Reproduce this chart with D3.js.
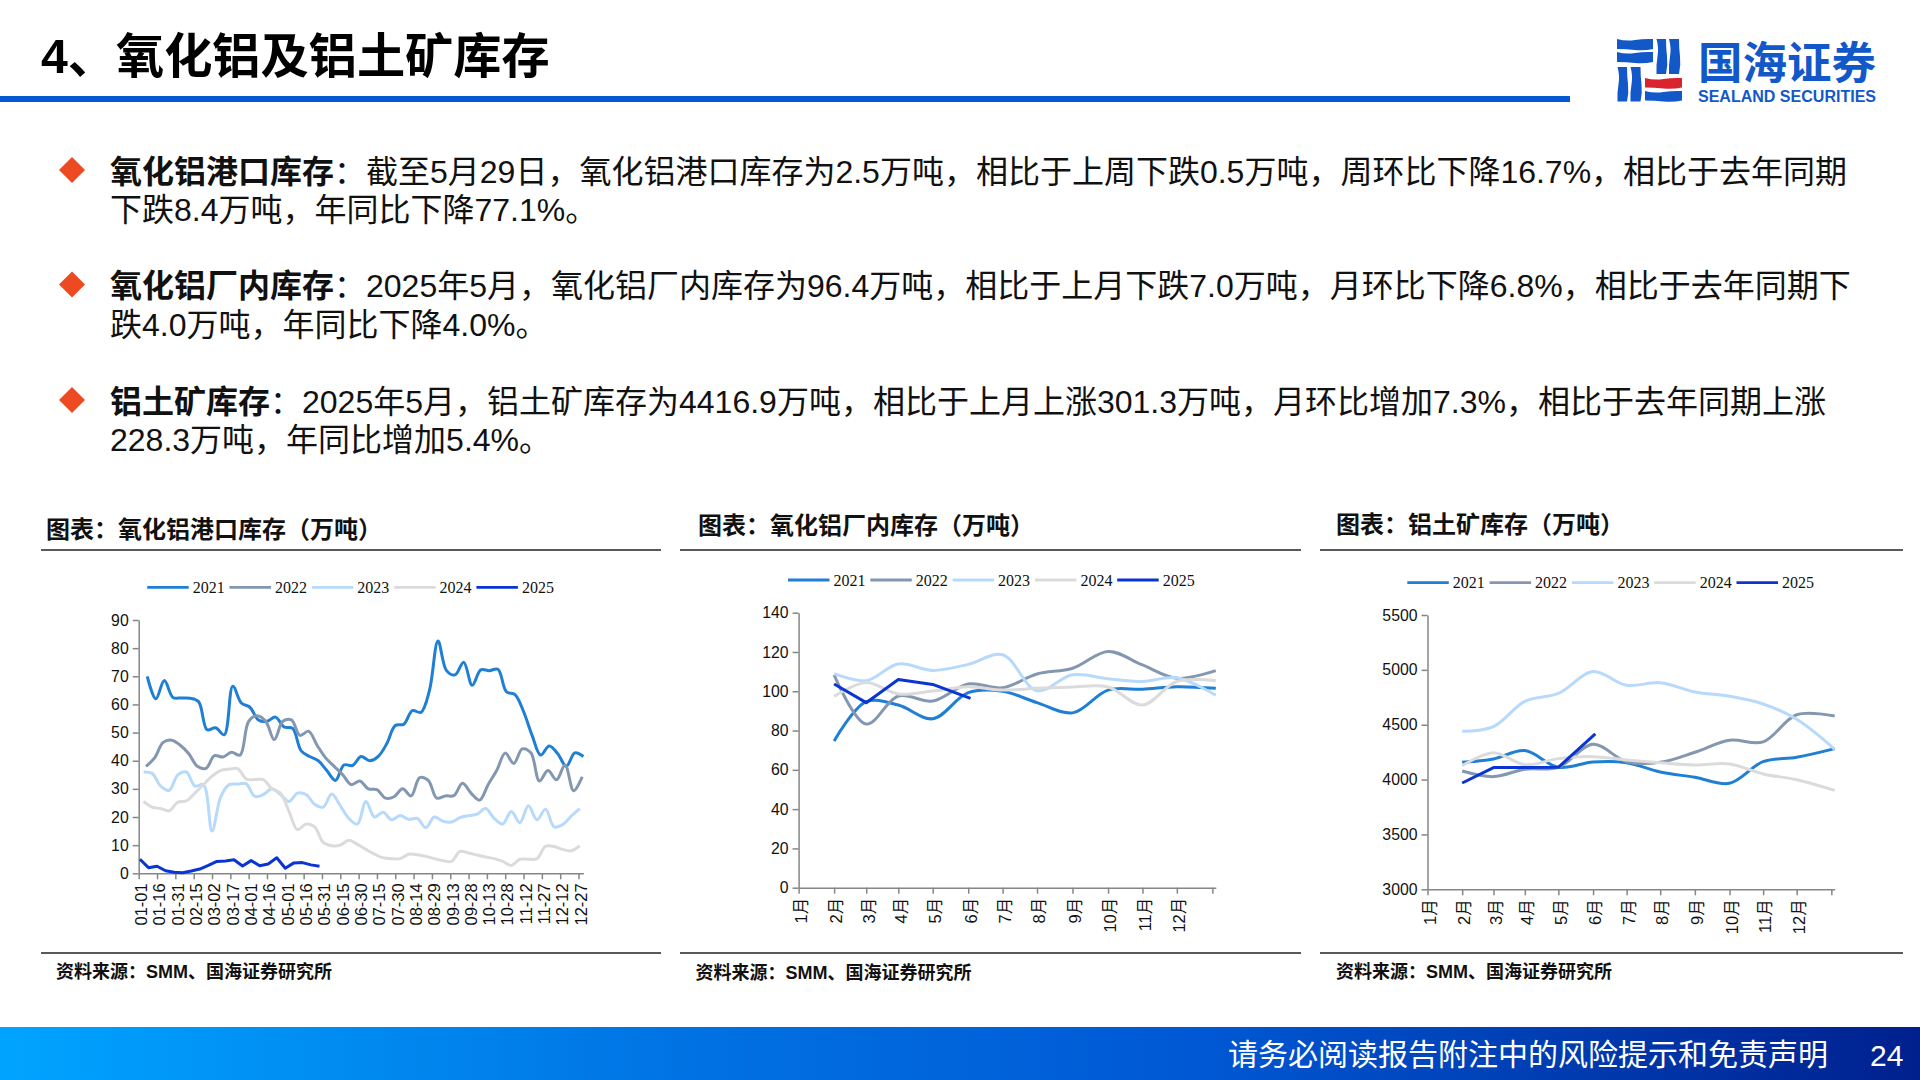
<!DOCTYPE html>
<html>
<head>
<meta charset="utf-8">
<script src="https://cdn.jsdelivr.net/npm/d3@7"></script>
<style>
  body { margin: 0; background: #fff; }
  svg { display: block; }
  text { font-family: "Liberation Sans", "Noto Sans CJK SC", sans-serif; }
</style>
</head>
<body>
<div id="slide"></div>
<script>
// Series names and colours shared by all three charts
const years = ["2021", "2022", "2023", "2024", "2025"];
const yearColors = ["#1E7FD4", "#8497B0", "#B7D9FB", "#DBDBDB", "#0A35D2"];

// Port stock: weekly readings, each year has its own first date
const portTickLabels = ["01-01", "01-16", "01-31", "02-15", "03-02", "03-17", "04-01", "04-16", "05-01", "05-16", "05-31", "06-15", "06-30", "07-15", "07-30", "08-14", "08-29", "09-13", "09-28", "10-13", "10-28", "11-12", "11-27", "12-12", "12-27"];
const portYTicks = [0, 10, 20, 30, 40, 50, 60, 70, 80, 90];
const portStart = ["01-08", "01-07", "01-05", "01-05", "01-02"];
const port2021 = [70, 62, 68.5, 62.5, 62.3, 62.2, 61, 51, 51.7, 49.2, 66.5, 60.5, 59, 54.5, 54, 55.5, 52, 51.5, 43.5, 41.5, 40, 36.5, 33, 38.5, 38.3, 41.5, 40, 41.5, 46, 52.5, 53, 57.8, 57.2, 65, 82.5, 72, 70.5, 75, 66.8, 72.3, 72, 72.5, 64.5, 63.5, 57.5, 49, 42, 45.2, 42.5, 38, 42.8, 41.5];
const port2022 = [38, 41, 46.5, 47.3, 45.5, 42.5, 38, 37.3, 41.8, 41.3, 43, 42, 54, 56, 54, 47.5, 54, 54.5, 49, 50.5, 45.5, 41, 38, 35, 31.5, 32.8, 30, 29.7, 26.7, 27.2, 30, 27.5, 34, 33, 26.7, 27.5, 27.6, 32, 28.5, 26, 31.5, 36.5, 42.7, 39, 44.2, 42.8, 32.8, 36.5, 33.2, 38.5, 29.3, 34.3];
const port2023 = [36, 35.5, 31, 29.5, 35, 36, 31, 31.5, 15, 27, 31.5, 31.7, 31.8, 27.3, 28, 30, 28, 25.5, 28.5, 28, 24.5, 23.5, 28.2, 24, 19.5, 17.5, 25.5, 20, 21.7, 19, 20.5, 19.2, 19.5, 16.2, 20, 18.5, 18.2, 19.8, 20.5, 21, 23, 19.5, 17.5, 22, 18, 24, 19, 22.8, 16.5, 17.3, 20.3, 23];
const port2024 = [25.5, 23.5, 23, 22.2, 25.3, 25.7, 28.5, 31.5, 34.5, 36.5, 37, 37.2, 33.5, 33.3, 33.3, 30, 28.5, 22, 15.5, 17.5, 16.5, 11, 9.8, 10, 11.7, 10.3, 8.5, 6.8, 5.5, 5.2, 5.2, 6.8, 6.6, 6, 5.2, 4.5, 4.2, 7.8, 7.2, 6.5, 5.8, 5.2, 4.2, 2.8, 5, 5, 5.2, 9.6, 9.5, 8.5, 8, 9.8];
const port2025 = [5, 2, 2.5, 0.9, 0.4, 0.2, 0.8, 1.5, 2.8, 4.2, 4.4, 4.8, 2.6, 4.5, 2.7, 3.3, 5.5, 1.8, 3.7, 3.8, 3, 2.5];

// Monthly charts: the month axis ticks are not evenly spaced in the source
const monthTickDates = ["01-01", "02-01", "03-01", "03-29", "04-28", "05-29", "06-28", "07-28", "08-28", "09-28", "10-28", "11-27", "12-28"];
const monthTickLabels = ["1月", "2月", "3月", "4月", "5月", "6月", "7月", "8月", "9月", "10月", "11月", "12月", ""];
const monthDates = ["02-01", "03-01", "03-29", "04-28", "05-29", "06-28", "07-28", "08-28", "09-28", "10-28", "11-27", "12-31"];
const monthDates2025 = ["02-01", "03-01", "03-29", "04-28", "05-31"];

// Plant stock
const plantYTicks = [0, 20, 40, 60, 80, 100, 120, 140];
const plant2021 = [74.7, 94.7, 93, 86, 99.3, 100, 94.2, 89, 100.6, 101, 102.3, 101.5];
const plant2022 = [108.3, 83.3, 97.6, 95, 103.7, 101.8, 108.8, 111.7, 120.3, 113.4, 106.6, 110.5];
const plant2023 = [109, 105.4, 113.9, 110.6, 113.7, 118.6, 100.3, 108.4, 106.4, 105, 106.9, 98];
const plant2024 = [97.4, 104.5, 98.6, 100.1, 102.3, 100.6, 101.5, 102.2, 102.2, 93, 105, 105.4];
const plant2025 = [103.7, 94.2, 106, 103.5, 96.4];

// Bauxite stock
const bauxiteYTicks = [3000, 3500, 4000, 4500, 5000, 5500];
const bauxite2021 = [4157, 4188, 4264, 4112, 4160, 4154, 4069, 4021, 3966, 4163, 4203, 4282];
const bauxite2022 = [4078, 4027, 4094, 4112, 4321, 4163, 4157, 4249, 4358, 4343, 4591, 4580];
const bauxite2023 = [4440, 4483, 4713, 4786, 4984, 4859, 4883, 4798, 4759, 4689, 4549, 4276];
const bauxite2024 = [4127, 4245, 4136, 4191, 4209, 4179, 4154, 4133, 4142, 4051, 3999, 3902];
const bauxite2025 = [3969, 4109, 4109, 4112, 4416.9];

// Slide text: each paragraph is a list of lines, each line a list of [text, bold]
const pageTitle = "4、氧化铝及铝土矿库存";
const paragraphs = [
  [[["氧化铝港口库存", true], ["：截至5月29日，氧化铝港口库存为2.5万吨，相比于上周下跌0.5万吨，周环比下降16.7%，相比于去年同期", false]],
   [["下跌8.4万吨，年同比下降77.1%。", false]]],
  [[["氧化铝厂内库存", true], ["：2025年5月，氧化铝厂内库存为96.4万吨，相比于上月下跌7.0万吨，月环比下降6.8%，相比于去年同期下", false]],
   [["跌4.0万吨，年同比下降4.0%。", false]]],
  [[["铝土矿库存", true], ["：2025年5月，铝土矿库存为4416.9万吨，相比于上月上涨301.3万吨，月环比增加7.3%，相比于去年同期上涨", false]],
   [["228.3万吨，年同比增加5.4%。", false]]]
];
const sourceText = "资料来源：SMM、国海证券研究所";
const footerText = "请务必阅读报告附注中的风险提示和免责声明";

const parseDay = d3.timeParse("%m-%d");
const weekly = (start, values) => values.map((v, i) => [d3.timeDay.offset(parseDay(start), 7 * i), v]);
const monthly = (dates, values) => values.map((v, i) => [parseDay(dates[i]), v]);

const svg = d3.select("#slide").append("svg").attr("width", 1920).attr("height", 1080);

// Footer gradient
const grad = svg.append("defs").append("linearGradient").attr("id", "footerGrad");
[[0, "#00A4FF"], [0.375, "#0070E2"], [0.625, "#0058D4"], [1, "#00208E"]].forEach(s => {
  grad.append("stop").attr("offset", s[0]).attr("stop-color", s[1]);
});

// Header
svg.append("text").attr("x", 41).attr("y", 73).attr("font-size", 48.2).attr("font-weight", 700).attr("fill", "#000").text(pageTitle);
svg.append("rect").attr("x", 0).attr("y", 96).attr("width", 1570).attr("height", 6).attr("fill", "#0559D2");

// Logo: slightly wavy bands, the vertical ones are drawn by swapping the wave axis
const logo = svg.append("g");
const hBand = (x, y, w, h) => `M${x} ${y}Q${x + w / 4} ${y + 2.5} ${x + w / 2} ${y + 1}T${x + w} ${y}V${y + h}Q${x + 3 * w / 4} ${y + h + 2} ${x + w / 2} ${y + h + 1}T${x} ${y + h}Z`;
const vBand = (x, y, w, h) => `M${x} ${y}Q${x + 2.5} ${y + h / 4} ${x + 1} ${y + h / 2}T${x} ${y + h}H${x + w}Q${x + w + 2} ${y + 3 * h / 4} ${x + w + 1} ${y + h / 2}T${x + w} ${y}Z`;
[hBand(1617, 39, 36, 10), hBand(1617, 52, 36, 10), vBand(1617.5, 67, 9.5, 34.5), vBand(1630.5, 67, 10, 34.5), vBand(1656.5, 39, 9.5, 35), vBand(1669, 39, 10, 35), hBand(1645, 91, 37, 9.5)]
  .forEach(d => logo.append("path").attr("d", d).attr("fill", "#1358C8"));
logo.append("path").attr("d", hBand(1645, 78, 37, 9.5)).attr("fill", "#D9232E");
logo.append("text").attr("x", 1698).attr("y", 79).attr("font-size", 44.5).attr("font-weight", 700).attr("fill", "#1358C8").text("国海证券");
logo.append("text").attr("x", 1698).attr("y", 101.5).attr("font-size", 16).attr("font-weight", 700).attr("fill", "#1358C8")
  .attr("textLength", 178).attr("lengthAdjust", "spacingAndGlyphs").text("SEALAND SECURITIES");

// Bullet paragraphs
const paraTop = [182.5, 297, 412.5];
const lineGap = 38.8;
paragraphs.forEach((lines, p) => {
  const cy = paraTop[p] - 12.5;
  svg.append("path").attr("d", `M72 ${cy - 13}L85 ${cy}L72 ${cy + 13}L59 ${cy}Z`).attr("fill", "#EE4A22");
  lines.forEach((runs, l) => {
    const t = svg.append("text").attr("x", 110).attr("y", paraTop[p] + l * lineGap).attr("font-size", 32).attr("fill", "#111");
    runs.forEach(r => t.append("tspan").attr("font-weight", r[1] ? 700 : 400).text(r[0]));
  });
});

// Footer
svg.append("rect").attr("x", 0).attr("y", 1027).attr("width", 1920).attr("height", 53).attr("fill", "url(#footerGrad)");
svg.append("text").attr("x", 1228).attr("y", 1065).attr("font-size", 30).attr("fill", "#fff").text(footerText);
svg.append("text").attr("x", 1870).attr("y", 1066).attr("font-size", 30).attr("fill", "#fff").text("24");

// Chart panels, built from the arrays above
const panels = [
  {
    title: "图表：氧化铝港口库存（万吨）", titleX: 46, titleY: 538, ruleX: [41, 661], ruleY: 550, sourceX: 56, sourceY: 977.5,
    xRange: [138.7, 583.4], yRange: [873.3, 620], yDomain: [0, 90], yTicks: portYTicks,
    xTicks: portTickLabels.map(parseDay), xLabels: portTickLabels,
    legendX: 147.2, legendStep: 82.3, legendY: 587.3,
    series: [port2021, port2022, port2023, port2024, port2025].map((v, i) => weekly(portStart[i], v))
  },
  {
    title: "图表：氧化铝厂内库存（万吨）", titleX: 698, titleY: 534, ruleX: [680, 1301], ruleY: 550, sourceX: 695.5, sourceY: 978.5,
    xRange: [798.6, 1215.8], yRange: [887.7, 612.7], yDomain: [0, 140], yTicks: plantYTicks,
    xTicks: monthTickDates.map(parseDay), xLabels: monthTickLabels,
    legendX: 788, legendStep: 82.3, legendY: 580,
    series: [plant2021, plant2022, plant2023, plant2024].map(v => monthly(monthDates, v)).concat([monthly(monthDates2025, plant2025)])
  },
  {
    title: "图表：铝土矿库存（万吨）", titleX: 1336, titleY: 533, ruleX: [1320, 1903], ruleY: 550, sourceX: 1336, sourceY: 977.5,
    xRange: [1427.5, 1834.7], yRange: [889.3, 615], yDomain: [3000, 5500], yTicks: bauxiteYTicks,
    xTicks: monthTickDates.map(parseDay), xLabels: monthTickLabels,
    legendX: 1407.3, legendStep: 82.3, legendY: 582.7,
    series: [bauxite2021, bauxite2022, bauxite2023, bauxite2024].map(v => monthly(monthDates, v)).concat([monthly(monthDates2025, bauxite2025)])
  }
];

panels.forEach(p => {
  const g = svg.append("g");

  g.append("text").attr("x", p.titleX).attr("y", p.titleY).attr("font-size", 24).attr("font-weight", 700).attr("fill", "#111").text(p.title);
  g.append("line").attr("x1", p.ruleX[0]).attr("x2", p.ruleX[1]).attr("y1", p.ruleY).attr("y2", p.ruleY).attr("stroke", "#222").attr("stroke-width", 1.3);
  g.append("line").attr("x1", p.ruleX[0]).attr("x2", p.ruleX[1]).attr("y1", 953).attr("y2", 953).attr("stroke", "#222").attr("stroke-width", 1.3);
  g.append("text").attr("x", p.sourceX).attr("y", p.sourceY).attr("font-size", 18).attr("font-weight", 700).attr("fill", "#111").text(sourceText);

  const xScale = d3.scaleTime().domain([parseDay("01-01"), parseDay("12-31")]).range(p.xRange);
  const yScale = d3.scaleLinear().domain(p.yDomain).range(p.yRange);

  const yAxis = d3.axisLeft(yScale).tickValues(p.yTicks).tickSize(6).tickSizeOuter(0).tickPadding(4).tickFormat(d3.format("d"));
  const xAxis = d3.axisBottom(xScale).tickValues(p.xTicks).tickSize(6).tickSizeOuter(0).tickFormat((d, i) => p.xLabels[i]);

  const yG = g.append("g").attr("transform", `translate(${p.xRange[0]},0)`).call(yAxis);
  const xG = g.append("g").attr("transform", `translate(0,${p.yRange[0]})`).call(xAxis);

  yG.selectAll("text").attr("font-size", 15.8).attr("fill", "#111");
  xG.selectAll("text")
    .attr("font-size", 16.5).attr("fill", "#111")
    .attr("text-anchor", "end").attr("dy", "0.35em")
    .attr("x", 0).attr("y", 0)
    .attr("transform", "translate(2,10) rotate(-90)");
  [yG, xG].forEach(a => {
    a.selectAll("path, line").attr("stroke", "#868686").attr("stroke-width", 1.5);
    a.selectAll("text").style("font-family", '"Liberation Sans", "Noto Sans CJK SC", sans-serif');
  });

  // Smooth for 2021-2024, straight segments for 2025
  const smooth = d3.line().x(d => xScale(d[0])).y(d => yScale(d[1])).curve(d3.curveCatmullRom.alpha(0.5));
  const straight = d3.line().x(d => xScale(d[0])).y(d => yScale(d[1]));
  p.series.forEach((s, i) => {
    g.append("path").attr("d", (i === 4 ? straight : smooth)(s))
      .attr("fill", "none").attr("stroke", yearColors[i]).attr("stroke-width", 3).attr("stroke-linejoin", "round");
  });

  // Legend
  years.forEach((y, i) => {
    const lx = p.legendX + i * p.legendStep;
    g.append("line").attr("x1", lx).attr("x2", lx + 41.5).attr("y1", p.legendY).attr("y2", p.legendY)
      .attr("stroke", yearColors[i]).attr("stroke-width", 2.8);
    g.append("text").attr("x", lx + 45.5).attr("y", p.legendY + 5.5).attr("font-size", 16).attr("fill", "#111")
      .style("font-family", '"Liberation Serif", serif').text(y);
  });
});
</script>
</body>
</html>
